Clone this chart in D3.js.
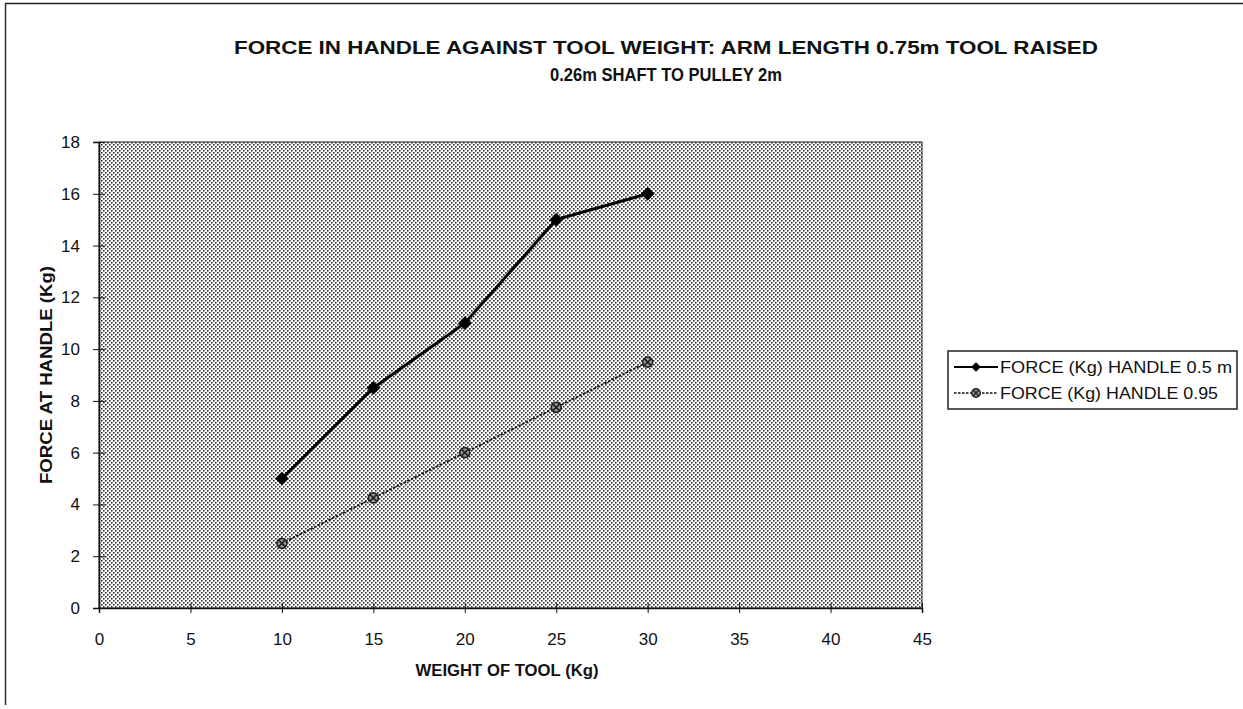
<!DOCTYPE html>
<html>
<head>
<meta charset="utf-8">
<script src="https://cdn.jsdelivr.net/npm/d3@7"></script>
<style>
  body { margin: 0; background: #fff; }
  text { font-family: "Liberation Sans", Arial, sans-serif; fill: #111; }
</style>
</head>
<body>
<div id="chart"></div>
<script>
var toolWeight = [10, 15, 20, 25, 30];
var forceHandle05 = [5, 8.5, 11, 15, 16];
var forceHandle095 = [2.5, 4.25, 6, 7.75, 9.5];
var xTicks = [0, 5, 10, 15, 20, 25, 30, 35, 40, 45];
var yTicks = [0, 2, 4, 6, 8, 10, 12, 14, 16, 18];
var seriesNames = ["FORCE (Kg) HANDLE 0.5 m", "FORCE (Kg) HANDLE 0.95"];
var titleLines = ["FORCE IN HANDLE AGAINST TOOL WEIGHT: ARM LENGTH 0.75m TOOL RAISED",
                  "0.26m SHAFT TO PULLEY 2m"];

var W = 1243, H = 709;
var margin = {top: 142, right: 321, bottom: 101, left: 99},
    width = W - margin.left - margin.right,
    height = H - margin.top - margin.bottom;

var x = d3.scaleLinear().domain([0, 45]).range([0, width]);
var y = d3.scaleLinear().domain([0, 18]).range([height, 0]);

var svg = d3.select("#chart").append("svg")
    .attr("width", W)
    .attr("height", H);

// halftone dot fill for the plot area
var pat = svg.append("defs").append("pattern")
    .attr("id", "dots")
    .attr("patternUnits", "userSpaceOnUse")
    .attr("width", 4)
    .attr("height", 4);
pat.append("rect").attr("width", 4).attr("height", 4).attr("fill", "#fff");
pat.append("rect").attr("x", 0).attr("y", 0).attr("width", 1.6).attr("height", 1.6).attr("fill", "#333");
pat.append("rect").attr("x", 2).attr("y", 2).attr("width", 1.6).attr("height", 1.6).attr("fill", "#333");

// outer frame (only top and left edges visible in the scan)
svg.append("line").attr("x1", 5).attr("y1", 3.5).attr("x2", W).attr("y2", 3.5)
    .attr("stroke", "#222").attr("stroke-width", 1.5);
svg.append("line").attr("x1", 5.5).attr("y1", 3).attr("x2", 5.5).attr("y2", 705)
    .attr("stroke", "#333").attr("stroke-width", 1.5);

// title
svg.append("text")
    .attr("x", 666)
    .attr("y", 54)
    .attr("text-anchor", "middle")
    .attr("textLength", 864)
    .attr("lengthAdjust", "spacingAndGlyphs")
    .style("font-size", "18px")
    .style("font-weight", "bold")
    .text(titleLines[0]);
svg.append("text")
    .attr("x", 666)
    .attr("y", 81)
    .attr("text-anchor", "middle")
    .attr("textLength", 232)
    .attr("lengthAdjust", "spacingAndGlyphs")
    .style("font-size", "18px")
    .style("font-weight", "bold")
    .text(titleLines[1]);

var g = svg.append("g")
    .attr("transform", "translate(" + margin.left + "," + margin.top + ")");

g.append("rect")
    .attr("width", width)
    .attr("height", height)
    .attr("fill", "url(#dots)")
    .attr("stroke", "#222")
    .attr("stroke-width", 1);

// axes
var xAxis = g.append("g")
    .attr("transform", "translate(0," + height + ")")
    .call(d3.axisBottom(x).tickValues(xTicks).tickSize(5).tickPadding(20));
xAxis.selectAll(".tick line").attr("y1", -5).attr("stroke", "#111");
xAxis.select(".domain").attr("stroke", "#111").attr("stroke-width", 1.5);
xAxis.selectAll("text").style("font-size", "17px").attr("fill", "#111");

var yAxis = g.append("g")
    .call(d3.axisLeft(y).tickValues(yTicks).tickSize(6).tickPadding(13));
yAxis.selectAll(".tick line").attr("x1", 6).attr("x2", -6).attr("stroke", "#111");
yAxis.select(".domain").attr("stroke", "#111").attr("stroke-width", 1.5);
yAxis.selectAll("text").style("font-size", "17px").attr("fill", "#111");

// axis titles
svg.append("text")
    .attr("x", 507)
    .attr("y", 676)
    .attr("text-anchor", "middle")
    .attr("textLength", 183)
    .attr("lengthAdjust", "spacingAndGlyphs")
    .style("font-size", "16px")
    .style("font-weight", "bold")
    .text("WEIGHT OF TOOL (Kg)");

svg.append("text")
    .attr("transform", "translate(52," + (margin.top + height / 2) + ") rotate(-90)")
    .attr("text-anchor", "middle")
    .attr("textLength", 218)
    .attr("lengthAdjust", "spacingAndGlyphs")
    .style("font-size", "16px")
    .style("font-weight", "bold")
    .text("FORCE AT HANDLE (Kg)");

var line = d3.line()
    .x(function(d) { return x(d[0]); })
    .y(function(d) { return y(d[1]); });

var s1 = toolWeight.map(function(w, i) { return [w, forceHandle05[i]]; });
var s2 = toolWeight.map(function(w, i) { return [w, forceHandle095[i]]; });

// series 1: thick solid with diamonds
g.append("path")
    .datum(s1)
    .attr("d", line)
    .attr("fill", "none")
    .attr("stroke", "#000")
    .attr("stroke-width", 3);

var diamond = d3.symbol().type(d3.symbolDiamond2).size(120);
g.selectAll(".m1")
  .data(s1)
  .enter().append("path")
    .attr("class", "m1")
    .attr("transform", function(d) { return "translate(" + x(d[0]) + "," + y(d[1]) + ")"; })
    .attr("d", diamond)
    .attr("fill", "#000");

// series 2: thin dotted line with crossed markers
g.append("path")
    .datum(s2)
    .attr("d", line)
    .attr("fill", "none")
    .attr("stroke", "#111")
    .attr("stroke-width", 1.8)
    .attr("stroke-dasharray", "2.5,1.5");

function crossMarker(sel) {
  sel.append("circle").attr("r", 5).attr("fill", "#999").attr("stroke", "#222").attr("stroke-width", 1.7);
  sel.append("path").attr("d", "M-3.5,-3.5L3.5,3.5M-3.5,3.5L3.5,-3.5").attr("stroke", "#222").attr("stroke-width", 1.7);
}

g.selectAll(".m2")
  .data(s2)
  .enter().append("g")
    .attr("class", "m2")
    .attr("transform", function(d) { return "translate(" + x(d[0]) + "," + y(d[1]) + ")"; })
    .call(crossMarker);

// legend
var lg = svg.append("g").attr("transform", "translate(948,351)");
lg.append("rect")
    .attr("width", 289)
    .attr("height", 58)
    .attr("fill", "#fff")
    .attr("stroke", "#222")
    .attr("stroke-width", 1.5);

var row1 = lg.append("g").attr("transform", "translate(0,16)");
row1.append("line").attr("x1", 6).attr("x2", 50).attr("stroke", "#000").attr("stroke-width", 2);
row1.append("path").attr("transform", "translate(28,0)").attr("d", d3.symbol().type(d3.symbolDiamond2).size(60)).attr("fill", "#000");
row1.append("text").attr("x", 52).attr("dy", "0.36em")
    .attr("textLength", 232).attr("lengthAdjust", "spacingAndGlyphs")
    .style("font-size", "17px").text(seriesNames[0]);

var row2 = lg.append("g").attr("transform", "translate(0,42)");
row2.append("line").attr("x1", 6).attr("x2", 50).attr("stroke", "#111").attr("stroke-width", 1.5).attr("stroke-dasharray", "2.5,1.5");
row2.append("g").attr("transform", "translate(28,0) scale(0.85)").call(crossMarker);
row2.append("text").attr("x", 52).attr("dy", "0.36em")
    .attr("textLength", 218).attr("lengthAdjust", "spacingAndGlyphs")
    .style("font-size", "17px").text(seriesNames[1]);
</script>
</body>
</html>
